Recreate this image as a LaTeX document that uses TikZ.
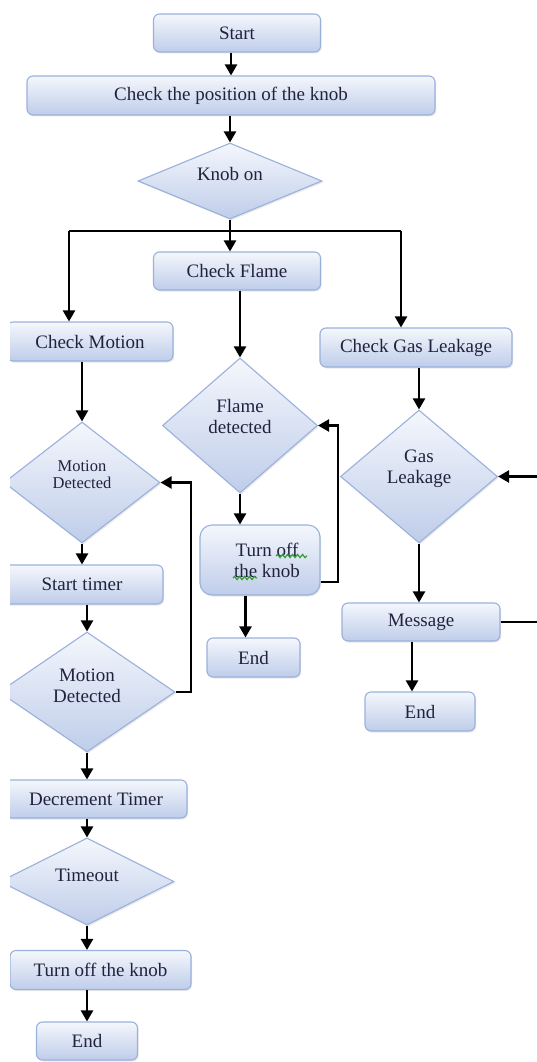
\documentclass[tikz,border=0pt]{standalone}
\usepackage{fontspec}
\setmainfont{Liberation Serif}
\usetikzlibrary{shapes.geometric,arrows.meta,calc,shadows,decorations.pathmorphing}
\definecolor{boxtop}{HTML}{F4F7FC}
\definecolor{boxbot}{HTML}{BFCDEA}
\definecolor{boxline}{HTML}{9AB1DC}
\definecolor{txt}{HTML}{22223F}
\definecolor{spell}{HTML}{3A9A3A}
\begin{document}
\begin{tikzpicture}[x=1pt,y=-1pt,
  base/.style={draw=boxline, line width=1.1pt, top color=boxtop, bottom color=boxbot,
    text=txt, font=\fontsize{19}{21}\selectfont, align=center, inner sep=0pt,
    drop shadow={opacity=0.18, shadow xshift=1.2pt, shadow yshift=-1.5pt}},
  proc/.style={base, rectangle, rounded corners=6pt},
  decision/.style={base, diamond},
  lbl/.style={text=txt, align=center, font=\fontsize{19}{21}\selectfont},
  arr/.style={-{Triangle[width=12pt,length=11pt]}, line width=2.3pt, black},
  ln/.style={line width=2.3pt, black},
  wavy/.style={draw=spell, line width=1.2pt, decorate,
    decoration={snake, segment length=5pt, amplitude=1.6pt}}]
\fill[white] (0,0) rectangle (537,1062);
\useasboundingbox (0,0) rectangle (537,1062);
\begin{scope}
\clip (10,0) rectangle (537,1062);
% nodes
\node[proc, minimum width=167pt, minimum height=38pt] (start) at (237,33) {Start};
\node[proc, minimum width=408pt, minimum height=39pt] (pos) at (231,95.5) {Check the position of the knob};
\node[decision, minimum width=184pt, minimum height=76pt, aspect=2.4,
  label={[lbl, yshift=7pt]center:Knob on}] (knob) at (230,181) {};
\node[proc, minimum width=167pt, minimum height=38pt] (flame) at (237,271) {Check Flame};
\node[proc, minimum width=166pt, minimum height=39pt] (motion) at (90,341.5) {Check Motion};
\node[proc, minimum width=192pt, minimum height=39pt] (gas) at (416,347.5) {Check Gas Leakage};
\node[decision, minimum width=155pt, minimum height=135pt, aspect=1.15,
  label={[lbl, yshift=9pt]center:Flame\\detected}] (fdet) at (240,425.5) {};
\node[decision, minimum width=156pt, minimum height=121pt, aspect=1.29,
  label={[lbl, yshift=8pt, font=\fontsize{16.5}{17}\selectfont]center:Motion\\Detected}] (md1) at (82,482.5) {};
\node[proc, rounded corners=12pt, minimum width=120pt, minimum height=70pt,
  label={[lbl, xshift=7pt]center:Turn off\\the knob}] (tk1) at (260,560) {};
\node[proc, minimum width=93pt, minimum height=39pt] (end1) at (253.5,657.5) {End};
\node[decision, minimum width=157pt, minimum height=133pt, aspect=1.18,
  label={[lbl, yshift=8pt]center:Gas\\Leakage}] (gdiam) at (419,476.5) {};
\node[proc, minimum width=158pt, minimum height=38pt] (msg) at (421,622) {Message};
\node[proc, minimum width=110pt, minimum height=39pt] (end2) at (420,711.5) {End};
\node[proc, minimum width=162pt, minimum height=39pt] (timer) at (82,584.5) {Start timer};
\node[decision, minimum width=176pt, minimum height=120pt, aspect=1.47,
  label={[lbl, yshift=6pt]center:Motion\\Detected}] (md2) at (87,692) {};
\node[proc, minimum width=182pt, minimum height=38pt] (decr) at (96,799) {Decrement Timer};
\node[decision, minimum width=174pt, minimum height=87pt, aspect=2,
  label={[lbl, yshift=6pt]center:Timeout}] (tout) at (87,881.5) {};
\node[proc, minimum width=181pt, minimum height=39pt] (tk2) at (100.5,970) {Turn off the knob};
\node[proc, minimum width=101pt, minimum height=38pt] (end3) at (87,1041) {End};
% spell-check squiggles
\draw[wavy] ($(tk1)+(16,-4)$) -- ($(tk1)+(47,-4)$);
\draw[wavy] ($(tk1)+(-27,18)$) -- ($(tk1)+(-3,18)$);
% helper coordinates
\coordinate (br) at (230,231);
\coordinate (bl) at (69,231);
\coordinate (bri) at (401,231);
\coordinate (fb1) at (338,0);
\coordinate (fb2) at (552,0);
\coordinate (fb3) at (191,0);
% connectors
\draw[arr] (start.south -| pos.north) -- (pos.north);
\draw[arr] (pos.south -| knob.north) -- (knob.north);
\draw[arr] (knob.south) -- (knob.south |- flame.north);
\draw[ln] (bl) -- (bri);
\draw[arr] (bl) -- (bl |- motion.north);
\draw[arr] (bri) -- (bri |- gas.north);
\draw[arr] (flame.south -| fdet.north) -- (fdet.north);
\draw[arr] (fdet.south) -- (fdet.south |- tk1.north);
\draw[arr] ($(tk1.east)+(0,22)$) -| (fb1 |- fdet.east) -- (fdet.east);
\draw[arr] ($(end1.north |- tk1.south)+(-8,0)$) -- ($(end1.north)+(-8,0)$);
\draw[arr] (md1.north |- motion.south) -- (md1.north);
\draw[arr] (md1.south) -- (md1.south |- timer.north);
\draw[arr] (md2.north |- timer.south) -- (md2.north);
\draw[arr] (md2.east) -| (fb3 |- md1.east) -- (md1.east);
\draw[arr] (md2.south) -- (md2.south |- decr.north);
\draw[arr] (tout.north |- decr.south) -- (tout.north);
\draw[arr] (tout.south) -- (tout.south |- tk2.north);
\draw[arr] (end3.north |- tk2.south) -- (end3.north);
\draw[arr] (gas.south -| gdiam.north) -- (gdiam.north);
\draw[arr] (gdiam.south) -- (gdiam.south |- msg.north);
\draw[arr] ($(msg.south)+(-9,0)$) -- ($(end2.north)+(-8,0)$);
\draw[arr] (msg.east) -| (fb2 |- gdiam.east) -- (gdiam.east);
\end{scope}
\end{tikzpicture}
\end{document}
